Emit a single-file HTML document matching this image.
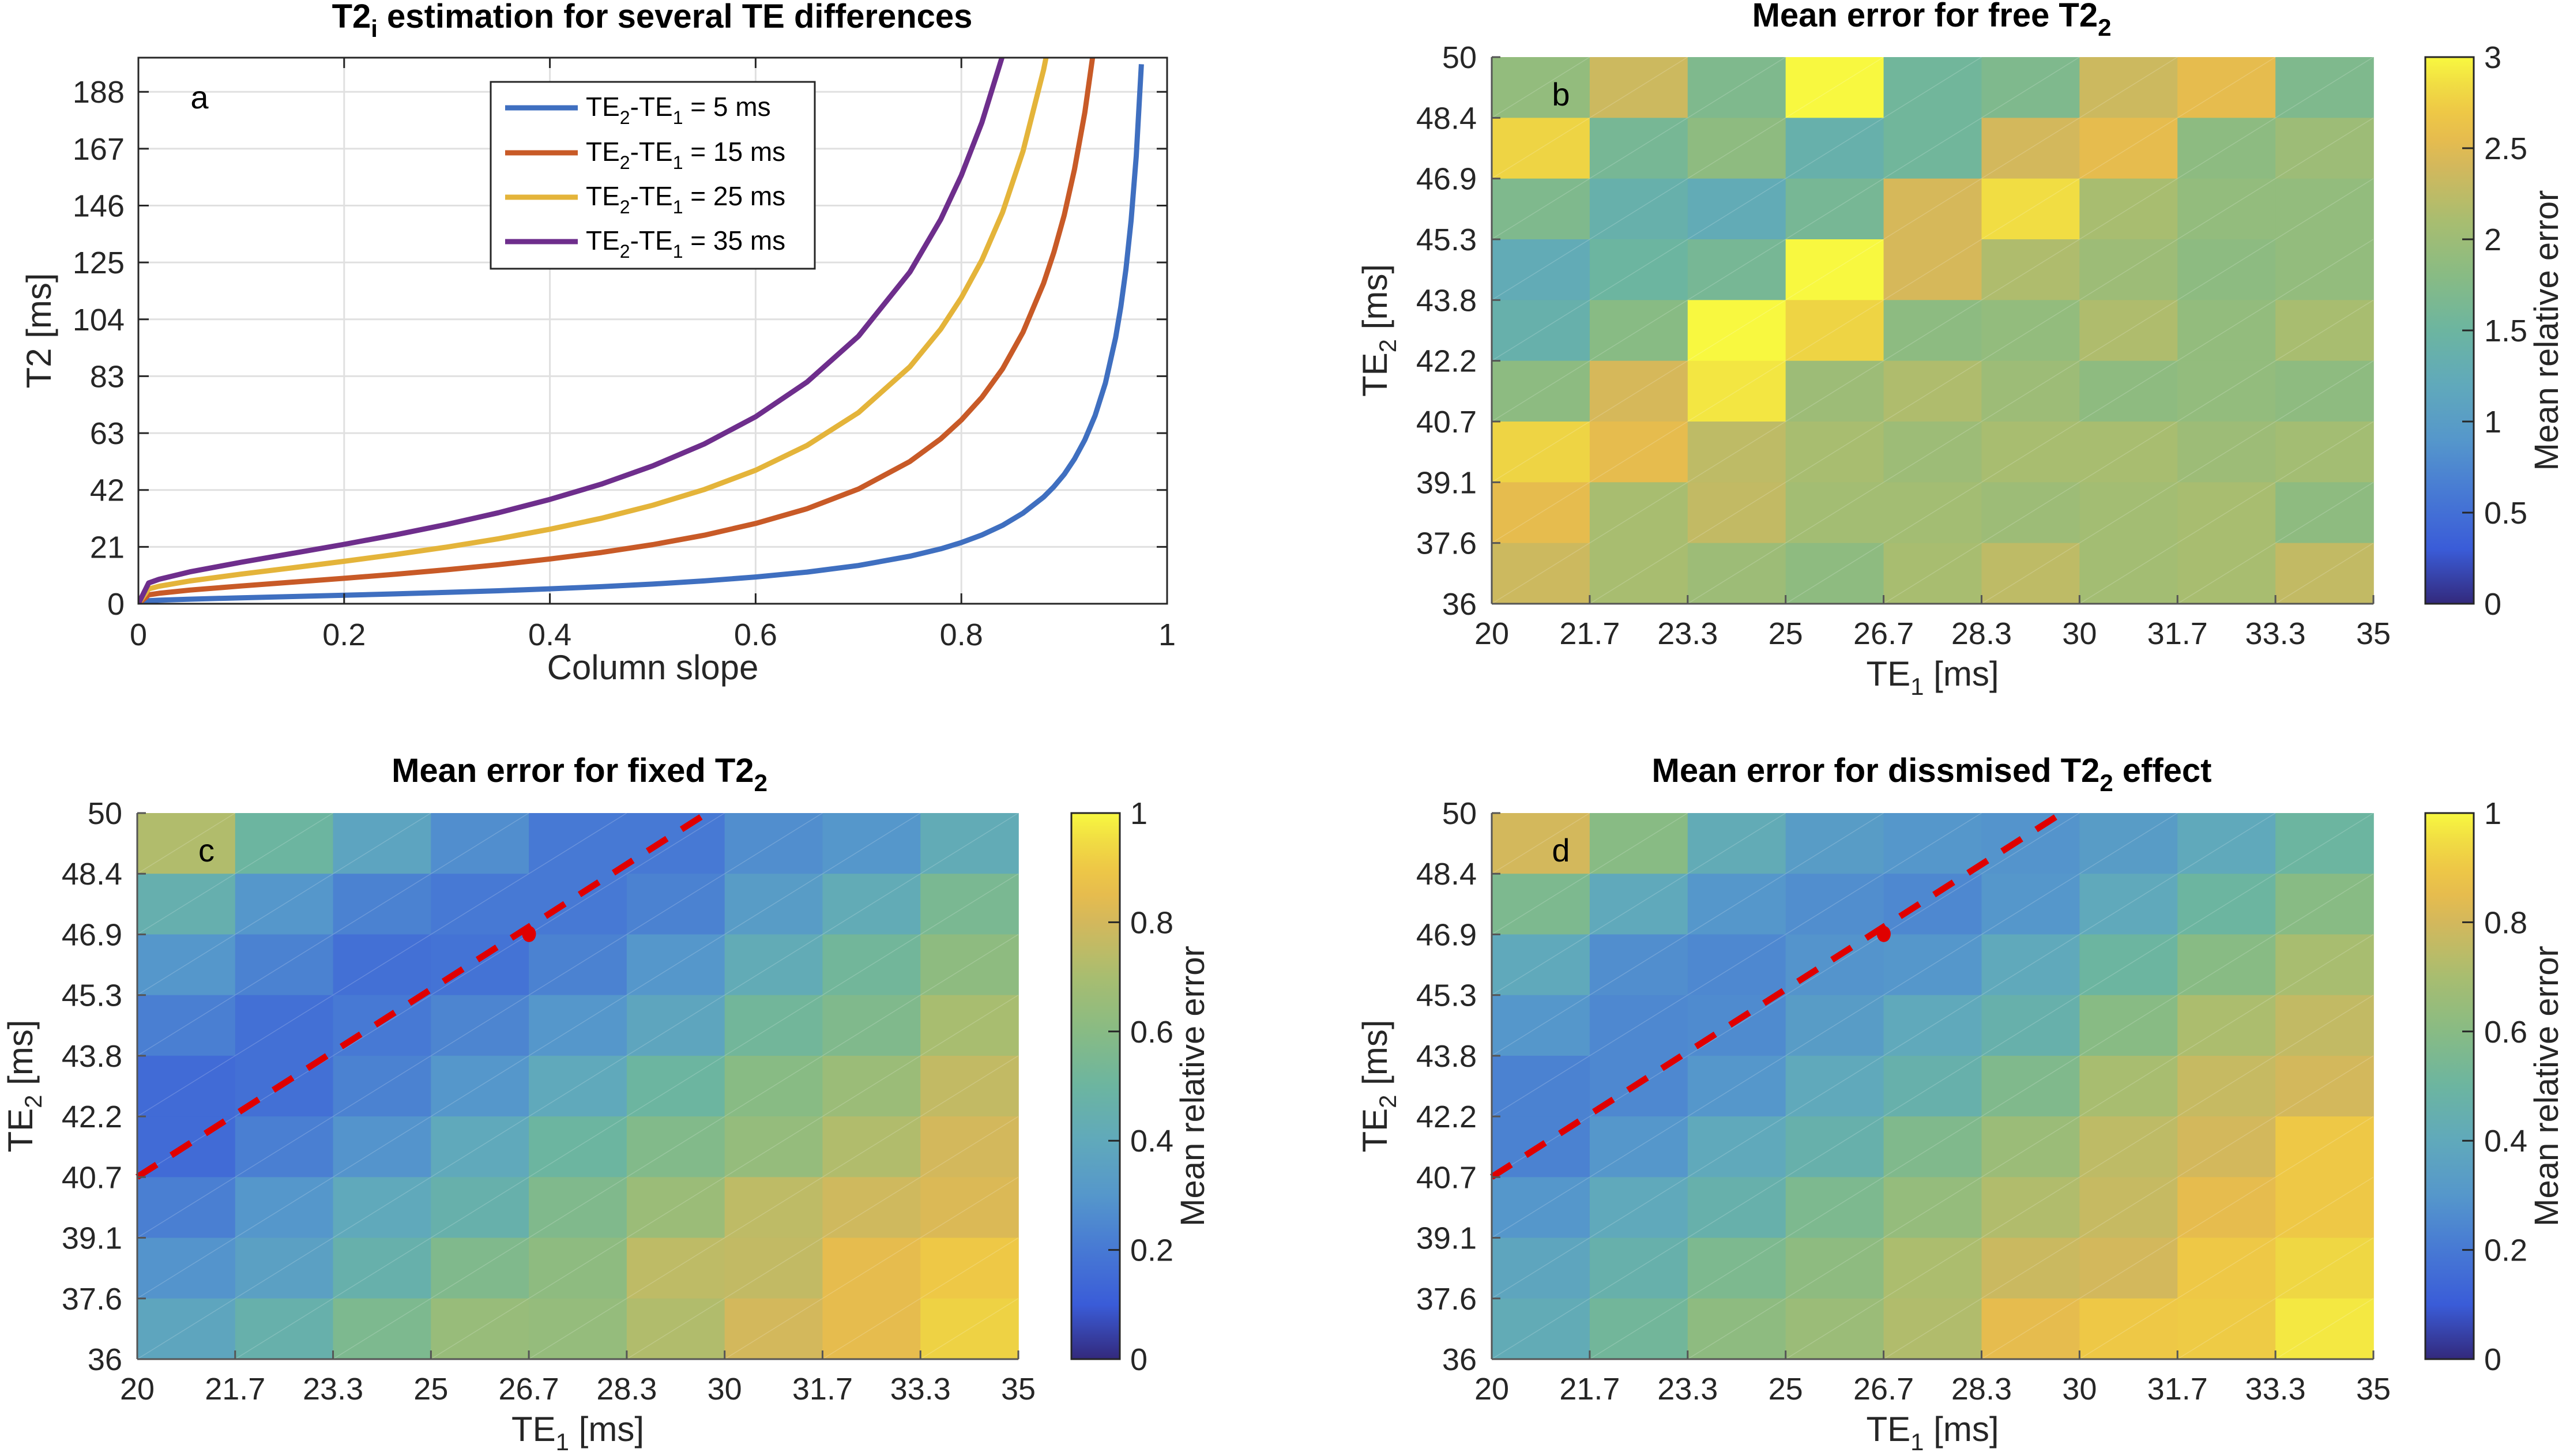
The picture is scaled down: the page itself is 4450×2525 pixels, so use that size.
<!DOCTYPE html>
<html><head><meta charset="utf-8">
<style>
html,body{margin:0;padding:0;background:#fff;}
svg{display:block;font-family:"Liberation Sans",Arial,sans-serif;}
</style></head>
<body>
<svg id="fig" width="4450" height="2525" viewBox="0 0 4450 2525" xmlns="http://www.w3.org/2000/svg"></svg>
<script>
// ---------- Panel a data ----------
const slopeSamples = [0,0.01,0.02,0.05,0.1,0.15,0.2,0.25,0.3,0.35,0.4,0.45,0.5,0.55,0.6,0.65,0.7,0.75,0.78,0.8,0.82,0.84,0.86,0.88,0.89,0.9,0.91,0.92,0.93,0.94,0.95,0.955,0.96,0.965,0.97,0.975];
const t2dTE5  = [0,1.09,1.28,1.67,2.17,2.64,3.11,3.61,4.15,4.76,5.46,6.26,7.21,8.36,9.79,11.6,14.0,17.4,20.1,22.4,25.2,28.7,33.2,39.1,42.9,47.4,53.0,60.0,68.9,80.8,97.5,108.7,122.5,140.4,163.9,197.6];
const t2dTE15 = [0,3.26,3.83,5.01,6.51,7.91,9.32,10.82,12.46,14.29,16.38,18.77,21.64,25.08,29.4,34.8,42.0,52.1,60.4,67.3,75.6,86.0,99.5,117.4,128.8,142.3,159.1,179.9,206.6];
const t2dTE25 = [0,5.43,6.39,8.34,10.86,13.18,15.54,18.04,20.76,23.81,27.29,31.29,36.07,41.81,48.9,58.0,70.0,86.8,100.6,112.1,125.9,143.3,165.8,195.6,214.6];
const t2dTE35 = [0,7.60,8.95,11.68,15.20,18.45,21.75,25.25,29.07,33.33,38.21,43.80,50.5,58.5,68.5,81.2,98.0,121.5,140.8,156.9,176.3,200.7];
const seriesNames = ["5","15","25","35"];
const aXTicks = [0,0.2,0.4,0.6,0.8,1];
const aYTicks = [0,20.83,41.67,62.5,83.33,104.17,125,145.83,166.67,187.5];
const aYTickLabels = ["0","21","42","63","83","104","125","146","167","188"];

// ---------- Heatmap data ----------
const te1Ticks = ["20","21.7","23.3","25","26.7","28.3","30","31.7","33.3","35"];
const te2Ticks = ["50","48.4","46.9","45.3","43.8","42.2","40.7","39.1","37.6","36"];
const heatB = [
 [1.9,2.35,1.7,3.0,1.55,1.7,2.35,2.55,1.7],
 [2.8,1.62,1.86,1.38,1.55,2.4,2.55,1.85,2.0],
 [1.7,1.38,1.26,1.62,2.42,2.85,2.1,1.9,1.9],
 [1.26,1.5,1.62,3.0,2.42,2.15,2.0,1.85,1.9],
 [1.38,1.8,3.0,2.8,1.85,1.9,2.15,1.9,2.1],
 [1.85,2.42,2.9,2.0,2.15,2.0,1.86,1.9,1.86],
 [2.8,2.55,2.25,2.1,2.0,2.1,2.1,2.0,2.05],
 [2.55,2.1,2.28,2.05,2.05,2.0,2.05,2.1,1.86],
 [2.35,2.1,2.0,1.86,2.1,2.25,2.05,2.1,2.28]];
const heatC = [
 [0.72,0.5,0.37,0.27,0.2,0.2,0.27,0.3,0.42],
 [0.45,0.3,0.23,0.2,0.2,0.23,0.33,0.42,0.55],
 [0.3,0.23,0.17,0.18,0.23,0.3,0.42,0.52,0.62],
 [0.22,0.17,0.2,0.24,0.3,0.38,0.52,0.57,0.7],
 [0.15,0.17,0.23,0.3,0.4,0.5,0.6,0.66,0.76],
 [0.15,0.22,0.29,0.4,0.5,0.58,0.64,0.72,0.8],
 [0.22,0.3,0.4,0.46,0.57,0.66,0.75,0.79,0.82],
 [0.29,0.35,0.46,0.57,0.62,0.75,0.76,0.85,0.9],
 [0.38,0.46,0.56,0.65,0.64,0.72,0.8,0.85,0.93]];
const heatD = [
 [0.8,0.6,0.42,0.33,0.3,0.29,0.33,0.4,0.5],
 [0.56,0.4,0.3,0.27,0.25,0.3,0.4,0.5,0.6],
 [0.4,0.27,0.25,0.29,0.3,0.4,0.5,0.6,0.7],
 [0.3,0.25,0.26,0.33,0.4,0.46,0.6,0.71,0.76],
 [0.23,0.25,0.3,0.4,0.46,0.57,0.7,0.77,0.8],
 [0.23,0.3,0.4,0.46,0.57,0.66,0.75,0.8,0.9],
 [0.3,0.4,0.46,0.56,0.64,0.72,0.77,0.85,0.9],
 [0.38,0.46,0.56,0.62,0.71,0.78,0.8,0.9,0.94],
 [0.42,0.52,0.62,0.66,0.72,0.85,0.9,0.91,0.97]];
const optLineTE1 = [20,29.7];
const optLineTE2 = [40.67,50];
const optPointTE1 = 26.67;
const optPointTE2 = 46.9;
const cbTicksB = [0,0.5,1,1.5,2,2.5,3];
const cbTicksCD = [0,0.2,0.4,0.6,0.8,1];

// ---------- helpers ----------
const NS="http://www.w3.org/2000/svg";
const svg=document.getElementById('fig');
function mk(tag,attrs,parent){const e=document.createElementNS(NS,tag);for(const k in attrs)e.setAttribute(k,attrs[k]);(parent||svg).appendChild(e);return e;}
function txt(str,x,y,size,anchor,parent,extra){const t=mk('text',Object.assign({x:x,y:y,'font-size':size,'text-anchor':anchor||'middle',fill:'#262626'},extra||{}),parent);t.textContent=str;return t;}
const stops=[[0,[51,41,124]],[0.1,[58,92,216]],[0.2,[71,121,212]],[0.3,[85,151,203]],[0.4,[96,169,187]],[0.5,[108,181,160]],[0.6,[136,187,132]],[0.7,[168,189,112]],[0.8,[211,184,92]],[0.87,[238,189,72]],[0.93,[238,210,68]],[1,[248,248,64]]];
function cmap(v){v=Math.max(0,Math.min(1,v));for(let i=1;i<stops.length;i++){if(v<=stops[i][0]){const a=stops[i-1],b=stops[i];const t=(v-a[0])/(b[0]-a[0]);const c=a[1].map((x,k)=>Math.round(x+(b[1][k]-x)*t));return `rgb(${c[0]},${c[1]},${c[2]})`;}}return 'rgb(248,248,64)';}

// ---------- Panel a ----------
(function(){
  const X0=240,X1=2024,Y0=100,Y1=1047;
  const xs=v=>X0+(v-0)/(1-0)*(X1-X0);
  const ys=v=>Y1-(v-0)/(200-0)*(Y1-Y0);
  const g=mk('g',{});  
  const grid=mk('g',{},g);  
  aXTicks.forEach(v=>{mk('line',{x1:xs(v),x2:xs(v),y1:Y0,y2:Y1,stroke:'#e0e0e0','stroke-width':3},grid);});
  aYTicks.forEach(v=>{mk('line',{x1:X0,x2:X1,y1:ys(v),y2:ys(v),stroke:'#e0e0e0','stroke-width':3},grid);});
  const clip=mk('clipPath',{id:'clipA'},g); mk('rect',{x:X0,y:Y0,width:X1-X0,height:Y1-Y0},clip);
  const cols=['#3f6fc0','#c85a27','#e4b43a','#6e2e8c'];
  const data=[t2dTE5,t2dTE15,t2dTE25,t2dTE35];
  data.forEach((arr,k)=>{
    const pts=arr.map((v,i)=>xs(slopeSamples[i]).toFixed(1)+','+ys(v).toFixed(1)).join(' ');
    const p=mk('polyline',{points:pts,fill:'none',stroke:cols[k],'stroke-width':9,'clip-path':'url(#clipA)','stroke-linejoin':'round'},g);
     
  });
  mk('rect',{x:X0,y:Y0,width:X1-X0,height:Y1-Y0,fill:'none',stroke:'#262626','stroke-width':3},g);
  aXTicks.forEach(v=>{mk('line',{x1:xs(v),x2:xs(v),y1:Y1,y2:Y1-18,stroke:'#262626','stroke-width':3},g);mk('line',{x1:xs(v),x2:xs(v),y1:Y0,y2:Y0+18,stroke:'#262626','stroke-width':3},g);
    const t=txt(String(v),xs(v),Y1+72,54,'middle',g);  });
  aYTicks.forEach((v,i)=>{mk('line',{x1:X0,x2:X0+18,y1:ys(v),y2:ys(v),stroke:'#262626','stroke-width':3},g);mk('line',{x1:X1,x2:X1-18,y1:ys(v),y2:ys(v),stroke:'#262626','stroke-width':3},g);
    const t=txt(aYTickLabels[i],X0-24,ys(v)+19,54,'end',g);  });
  const xl=txt('Column slope',(X0+X1)/2,1178,60,'middle',g);  
  const yl=txt('T2 [ms]',0,0,60,'middle',g,{transform:`translate(88,${(Y0+Y1)/2}) rotate(-90)`});  
  const ti=mk('text',{x:1131,y:48,'font-size':58,'font-weight':'bold','text-anchor':'middle',fill:'#000'},g);
  ti.innerHTML='T2<tspan font-size="42" dy="16">i</tspan><tspan dy="-16"> estimation for several TE differences</tspan>';
   
  const lt=txt('a',346,188,56,'middle',g,{fill:'#000'});  
  const lg=mk('g',{},g);  
  mk('rect',{x:851,y:142,width:562,height:324,fill:'#fff',stroke:'#262626','stroke-width':3},lg);
  const ly=[187,265,342,419];
  seriesNames.forEach((n,k)=>{
    const e=mk('g',{},lg);  
    mk('line',{x1:876,x2:1002,y1:ly[k],y2:ly[k],stroke:cols[k],'stroke-width':9},e);
    const t=mk('text',{x:1016,y:ly[k]+14,'font-size':46,fill:'#000'},e);
    t.innerHTML=`TE<tspan font-size="32" dy="14">2</tspan><tspan dy="-14">-TE</tspan><tspan font-size="32" dy="14">1</tspan><tspan dy="-14"> = ${n} ms</tspan>`;
  });
})();

// ---------- Heatmap panels ----------
function heatPanel(opt){
  const {X0,X1,Y0,Y1,data,vmax,cbX,cbTicks,title,label,showLine,name,titleX,titleY}=opt;
  const xs=v=>X0+(v-20)/15*(X1-X0);
  const ys=v=>Y1-(v-36)/14*(Y1-Y0);
  const g=mk('g',{});  
  const n=data.length, m=data[0].length;
  const cw=(X1-X0)/m, ch=(Y1-Y0)/n;
  data.forEach((row,i)=>row.forEach((v,j)=>{
    const r=mk('rect',{x:X0+j*cw,y:Y0+i*ch,width:cw+0.8,height:ch+0.8,fill:cmap(v/vmax)},g);
     
  }));
  data.forEach((row,i)=>row.forEach((v,j)=>{mk('line',{x1:X0+j*cw,y1:Y0+(i+1)*ch,x2:X0+(j+1)*cw,y2:Y0+i*ch,stroke:'rgba(255,255,255,0.18)','stroke-width':1.5},g);}));
  if(showLine){
    const l=mk('line',{x1:xs(optLineTE1[0]),y1:ys(optLineTE2[0]),x2:xs(optLineTE1[1]),y2:ys(optLineTE2[1]),stroke:'#e00000','stroke-width':11,'stroke-dasharray':'40 30'},g);
     
    const c=mk('ellipse',{cx:xs(optPointTE1),cy:ys(optPointTE2),rx:12,ry:14,fill:'#e00000'},g);
     
  }
  mk('line',{x1:X0,x2:X0,y1:Y0,y2:Y1,stroke:'#555','stroke-width':3},g);
  mk('line',{x1:X0,x2:X1,y1:Y1,y2:Y1,stroke:'#555','stroke-width':3},g);
  te1Ticks.forEach((s,k)=>{const x=X0+k*(X1-X0)/9;mk('line',{x1:x,x2:x,y1:Y1,y2:Y1-15,stroke:'#555','stroke-width':3},g);
    const t=txt(s,x,Y1+70,54,'middle',g);  });
  te2Ticks.forEach((s,k)=>{const y=Y0+k*(Y1-Y0)/9;mk('line',{x1:X0,x2:X0+15,y1:y,y2:y,stroke:'#555','stroke-width':3},g);
    const t=txt(s,X0-26,y+19,54,'end',g);  });
  const xl=mk('text',{x:(X0+X1)/2,y:Y1+142,'font-size':60,'text-anchor':'middle',fill:'#262626'},g);
  xl.innerHTML='TE<tspan font-size="42" dy="16">1</tspan><tspan dy="-16"> [ms]</tspan>';
   
  const yl=mk('text',{x:0,y:0,'font-size':60,'text-anchor':'middle',fill:'#262626',transform:`translate(${X0-182},${(Y0+Y1)/2}) rotate(-90)`},g);
  yl.innerHTML='TE<tspan font-size="42" dy="16">2</tspan><tspan dy="-16"> [ms]</tspan>';
   
  const ti=mk('text',{x:titleX,y:titleY,'font-size':58,'font-weight':'bold','text-anchor':'middle',fill:'#000'},g);
  ti.innerHTML=title+'<tspan font-size="42" dy="16">2</tspan><tspan dy="-16">'+(opt.titleTail||'')+'</tspan>';
   
  const lt=txt(label,X0+120,Y0+84,56,'middle',g,{fill:'#000'});  
  const cb=mk('g',{},g);  
  const gid='grad'+label;
  const lg=mk('linearGradient',{id:gid,x1:0,y1:1,x2:0,y2:0},cb);
  for(let i=0;i<=20;i++){mk('stop',{offset:(i/20),'stop-color':cmap(i/20)},lg);}
  mk('rect',{x:cbX,y:Y0,width:84,height:Y1-Y0,fill:`url(#${gid})`,stroke:'#262626','stroke-width':3},cb);
  const cmax=cbTicks[cbTicks.length-1];
  cbTicks.forEach(v=>{const y=Y1-v/cmax*(Y1-Y0);mk('line',{x1:cbX+84,x2:cbX+64,y1:y,y2:y,stroke:'#262626','stroke-width':3},cb);
    const t=txt(String(v),cbX+102,y+19,54,'start',cb);  });
  const ct=txt('Mean relative error',0,0,58,'middle',cb,{transform:`translate(${cbX+230},${(Y0+Y1)/2}) rotate(-90)`});
   
}
heatPanel({name:'panel-b',X0:2587,X1:4116,Y0:99,Y1:1047,data:heatB,vmax:3,cbX:4206,cbTicks:cbTicksB,title:'Mean error for free T2',label:'b',showLine:false,titleX:3350,titleY:46});
heatPanel({name:'panel-c',X0:238,X1:1766,Y0:1410,Y1:2357,data:heatC,vmax:1,cbX:1858,cbTicks:cbTicksCD,title:'Mean error for fixed T2',label:'c',showLine:true,titleX:1005,titleY:1356});
heatPanel({name:'panel-d',X0:2587,X1:4116,Y0:1410,Y1:2357,data:heatD,vmax:1,cbX:4206,cbTicks:cbTicksCD,title:'Mean error for dissmised T2',titleTail:' effect',label:'d',showLine:true,titleX:3350,titleY:1356});
</script>
</body></html>
